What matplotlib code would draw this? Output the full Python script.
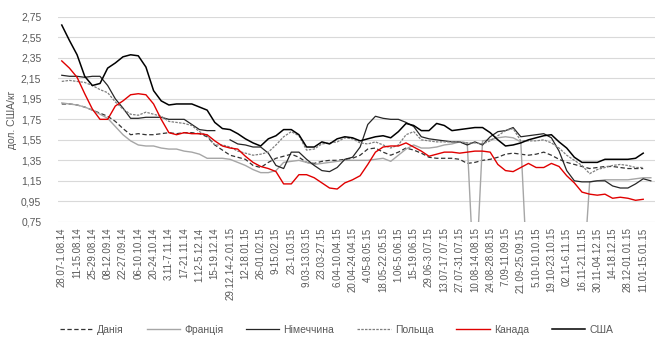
#!/usr/bin/env python3
# plot.py

import numpy as np
import matplotlib
matplotlib.use('Agg')
import matplotlib.pyplot as plt
from matplotlib.ticker import FuncFormatter

nan = np.nan

# ----------------------------
# Дані (тижневі ціни, дол. США/кг)
# ----------------------------
labels = ['28.07-1.08.14', '11-15.08.14', '25-29.08.14', '08-12.09.14', '22-27.09.14',
          '06-10.10.14', '20-24.10.14', '3.11-7.11.14', '17-21.11.14', '1.12-5.12.14',
          '15-19.12.14', '29.12.14-2.01.15', '12-18.01.15', '26-01.02.15', '9-15.02.15',
          '23-1.03.15', '9.03-13.03.15', '23.03-27.15', '6.04-10.04.15', '20.04-24.04.15',
          '4.05-8.05.15', '18.05-22.05.15', '1.06-5.06.15', '15-19.06.15', '29.06-3.07.15',
          '13.07-17.07.15', '27.07-31.07.15', '10.08-14.08.15', '24.08-28.08.15', '7.09-11.09.15',
          '21.09-25.09.15', '5.10-10.10.15', '19.10-23.10.15', '02.11-6.11.15', '16.11-21.11.15',
          '30.11-04.12.15', '14-18.12.15', '28.12-01.01.15', '11.01-15.01.15']

danija = [1.90, 1.90, 1.89, 1.87, 1.84, 1.81, 1.78, 1.73, 1.66, 1.60, 1.61, 1.60, 1.60, 1.61,
          1.62, 1.61, 1.62, 1.62, 1.61, 1.58, 1.50, 1.45, 1.40, 1.38, 1.36, 1.30, 1.28,
          1.33, 1.37, 1.39, 1.41, 1.38, 1.33, 1.32, 1.34, 1.35, 1.35, 1.36, 1.37, 1.40,
          1.46, 1.47, 1.43, 1.40, 1.43, 1.47, 1.45, 1.42, 1.38, 1.37, 1.37, 1.37, 1.36,
          1.32, 1.33, 1.35, 1.36, 1.38, 1.41, 1.42, 1.41, 1.40, 1.41, 1.43, 1.40, 1.36,
          1.33, 1.31, 1.29, 1.27, 1.28, 1.29, 1.29, 1.28, 1.27, 1.27, 1.27, nan]

francija = [1.91, 1.90, 1.89, 1.87, 1.84, 1.80, 1.76, 1.68, 1.60, 1.54, 1.50, 1.49, 1.49, 1.47,
            1.46, 1.46, 1.44, 1.43, 1.41, 1.37, 1.37, 1.37, 1.36, 1.33, 1.30, 1.26, 1.23,
            1.23, 1.25, 1.33, 1.34, 1.35, 1.33, 1.31, 1.32, 1.33, 1.34, 1.35, 1.35, 1.35,
            1.35, 1.36, 1.37, 1.34, 1.40, 1.46, 1.50, 1.47, 1.47, 1.48, 1.50, 1.51, 1.53,
            1.52, 0.00, 1.54, 1.55, 1.57, 1.58, 1.57, 1.53, 0.00, 0.00, 0.00, 0.00, 0.00,
            0.00, 0.00, 0.00, 1.14, 1.15, 1.16, 1.16, 1.16, 1.16, 1.17, 1.18, 1.18]

nimechchyna = [2.18, 2.17, 2.17, 2.16, 2.17, 2.17, 2.08, 1.95, 1.86, 1.76, 1.76, 1.77, 1.77, 1.77,
               1.75, 1.75, 1.75, 1.70, 1.65, 1.64, 1.64, nan, 1.55, 1.51, 1.50, 1.48, 1.48,
               1.42, 1.30, 1.27, 1.43, 1.43, 1.36, 1.30, 1.25, 1.24, 1.28, 1.36, 1.38, 1.48,
               1.70, 1.78, 1.76, 1.75, 1.75, 1.72, 1.68, 1.58, 1.56, 1.55, 1.54, 1.53, 1.53,
               1.50, 1.53, 1.50, 1.58, 1.63, 1.64, 1.67, 1.58, 1.59, 1.60, 1.61, 1.57, 1.44,
               1.25, 1.15, 1.14, 1.14, 1.15, 1.15, 1.10, 1.08, 1.08, 1.12, 1.17, 1.15]

polshcha = [2.12, 2.13, 2.12, 2.11, 2.08, 2.04, 2.01, 1.92, 1.85, 1.80, 1.79, 1.82, 1.80, 1.78,
            1.73, 1.72, 1.71, 1.69, 1.63, 1.59, 1.50, 1.50, 1.48, 1.44, 1.42, 1.40, 1.41,
            1.43, 1.50, 1.58, 1.63, 1.59, 1.45, 1.46, 1.51, 1.52, 1.53, 1.57, 1.56, 1.52,
            1.51, 1.53, 1.50, 1.47, 1.50, 1.60, 1.63, 1.55, 1.54, 1.53, 1.53, 1.53, 1.53,
            1.52, 1.52, 1.51, 1.54, 1.59, 1.64, 1.66, 1.54, 1.54, 1.54, 1.55, 1.52, 1.47,
            1.40, 1.35, 1.30, 1.22, 1.26, 1.28, 1.30, 1.31, 1.30, 1.28, 1.28, nan]

kanada = [2.32, 2.25, 2.16, 2.00, 1.85, 1.75, 1.75, 1.88, 1.93, 1.99, 2.00, 1.99, 1.90, 1.75,
          1.62, 1.60, 1.62, 1.61, 1.61, 1.60, 1.54, 1.49, 1.47, 1.46, 1.39, 1.33, 1.29,
          1.27, 1.24, 1.12, 1.12, 1.21, 1.21, 1.18, 1.13, 1.08, 1.07, 1.13, 1.16, 1.20,
          1.31, 1.43, 1.48, 1.49, 1.49, 1.52, 1.48, 1.44, 1.39, 1.41, 1.43, 1.43, 1.42,
          1.43, 1.44, 1.44, 1.43, 1.31, 1.25, 1.24, 1.28, 1.32, 1.28, 1.28, 1.32, 1.29,
          1.20, 1.13, 1.04, 1.02, 1.01, 1.02, 0.98, 0.99, 0.98, 0.96, 0.97, nan]

ssha = [2.67, 2.52, 2.38, 2.17, 2.08, 2.10, 2.25, 2.30, 2.36, 2.38, 2.37, 2.26, 2.03, 1.93,
        1.89, 1.90, 1.90, 1.90, 1.87, 1.84, 1.72, 1.66, 1.65, 1.61, 1.56, 1.52, 1.49,
        1.56, 1.59, 1.65, 1.65, 1.60, 1.48, 1.48, 1.53, 1.51, 1.56, 1.58, 1.57, 1.54,
        1.56, 1.58, 1.59, 1.57, 1.63, 1.71, 1.69, 1.64, 1.64, 1.71, 1.69, 1.64, 1.65,
        1.66, 1.67, 1.67, 1.62, 1.55, 1.49, 1.50, 1.52, 1.55, 1.57, 1.59, 1.60, 1.53,
        1.47, 1.38, 1.33, 1.33, 1.33, 1.36, 1.36, 1.36, 1.36, 1.37, 1.42, nan]

yticks = [0.75, 0.95, 1.15, 1.35, 1.55, 1.75, 1.95, 2.15, 2.35, 2.55, 2.75]

# ----------------------------
# Побудова графіка
# ----------------------------
plt.rcParams['font.family'] = ['Liberation Sans', 'DejaVu Sans']
txt = '#595959'

fig = plt.figure(figsize=(6.66, 3.51), dpi=100)
ax = fig.add_axes([0.087, 0.368, 0.896, 0.584])

x = np.arange(len(ssha))

ax.plot(x, danija, color='#333333', lw=0.9, dashes=(3.5, 2.0), label='Данія')
ax.plot(x, francija, color='#a6a6a6', lw=1.0, label='Франція')
ax.plot(x, nimechchyna, color='#262626', lw=0.9, label='Німеччина')
ax.plot(x, polshcha, color='#7f7f7f', lw=0.9, dashes=(2.0, 1.0), label='Польща')
ax.plot(x, kanada, color='#e00000', lw=1.0, label='Канада')
ax.plot(x, ssha, color='#000000', lw=1.1, label='США')

ax.set_xlim(-0.5, len(ssha) - 0.5)
ax.set_ylim(0.75, 2.75)
ax.set_yticks(yticks)
ax.yaxis.set_major_formatter(FuncFormatter(lambda v, p: f'{v:.2f}'.replace('.', ',')))
ax.set_xticks(x[::2][:len(labels)])
ax.set_xticklabels(labels, rotation=90, fontsize=7, color=txt)
ax.tick_params(axis='y', labelsize=7.5, labelcolor=txt, length=0, pad=12)
ax.tick_params(axis='x', length=0, pad=4)

ax.grid(axis='y', color='#d9d9d9', lw=0.8)
ax.set_axisbelow(True)
for s in ax.spines.values():
    s.set_visible(False)

ax.set_ylabel('дол. США/кг', fontsize=7.5, color=txt, labelpad=3)

fig.legend(loc='lower center', bbox_to_anchor=(0.505, 0.02), ncol=6, frameon=False,
           fontsize=7.5, labelcolor=txt, handlelength=3.2, columnspacing=2.2,
           handletextpad=0.4)

fig.savefig('out.png', dpi=100)
